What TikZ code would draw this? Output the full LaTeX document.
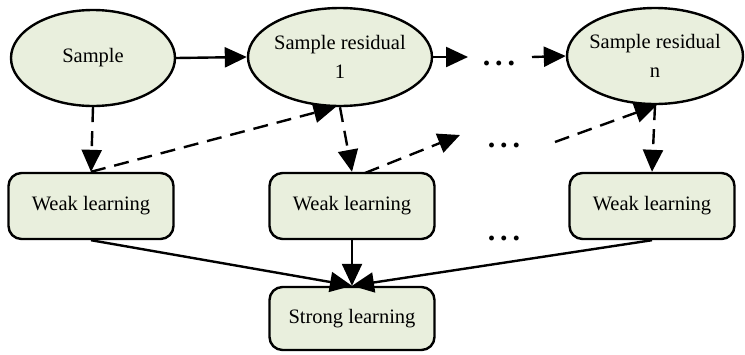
\documentclass[tikz,border=0pt]{standalone}
\usepackage{fontspec}
\setmainfont{Liberation Serif}
\usetikzlibrary{shapes.geometric,arrows.meta}
\definecolor{nodefill}{RGB}{233,239,221}
\begin{document}
\begin{tikzpicture}[x=1pt,y=-1pt,
  lw/.style={line width=2.4pt},
  ell/.style={ellipse,draw,lw,fill=nodefill,inner sep=0pt},
  box/.style={rectangle,rounded corners=13pt,draw,lw,fill=nodefill,minimum width=165pt,minimum height=66pt,inner sep=0pt},
  txt/.style={align=center,font=\fontsize{20.5}{29}\selectfont},
  dots/.style={inner sep=0pt,font=\bfseries\fontsize{30}{32}\selectfont},
  arr/.style={lw,-{Triangle[length=22pt,width=20pt]}},
  darr/.style={arr,dash pattern=on 15pt off 9pt}]
\useasboundingbox (0,0) rectangle (745,354);
% ellipses
\node[ell,minimum width=164pt,minimum height=96pt] (s0) at (93,58) {};
\node[txt] (t0) at (s0) {Sample};
\node[ell,minimum width=184pt,minimum height=98pt] (s1) at (340,57) {};
\node[txt] (t1) at (s1) {Sample residual\\1};
\node[ell,minimum width=176pt,minimum height=96pt] (sn) at (655,56) {};
\node[txt] (tn) at (sn) {Sample residual\\n};
% boxes
\node[box,txt] (w1) at (91,206) {Weak learning};
\node[box,txt] (w2) at (352,206) {Weak learning};
\node[box,txt] (w3) at (652,206) {Weak learning};
\node[box,txt,minimum height=63pt] (st) at (352,318.5) {Strong learning};
% dots
\node[dots] (d1) at (499,63) {.\,.\,.};
\node[dots] (d2) at (504,145) {.\,.\,.};
\node[dots] (d3) at (504,238) {.\,.\,.};
\coordinate (c1) at (468,57);
\coordinate (c2) at (532,57);
\coordinate (c3) at (365,173);
\coordinate (c4) at (460,135);
\coordinate (c5) at (555,142);
% solid arrows
\draw[arr] (s0.east) -- (s1.west);
\draw[arr] (s1.east) -- (c1);
\draw[arr] (c2) -- (sn.west);
\draw[arr] (w1.south) -- (st.north);
\draw[arr] (w2.south) -- (st.north);
\draw[arr] (w3.south) -- (st.north);
% dashed arrows
\draw[darr] (s0.south) -- (w1.north);
\draw[darr] (w1.north) -- (s1.-95);
\draw[darr] (s1.south) -- (w2.north);
\draw[darr] (c3) -- (c4);
\draw[darr] (c5) -- (sn.-88);
\draw[darr] (sn.south) -- (w3.north);
\end{tikzpicture}
\end{document}
